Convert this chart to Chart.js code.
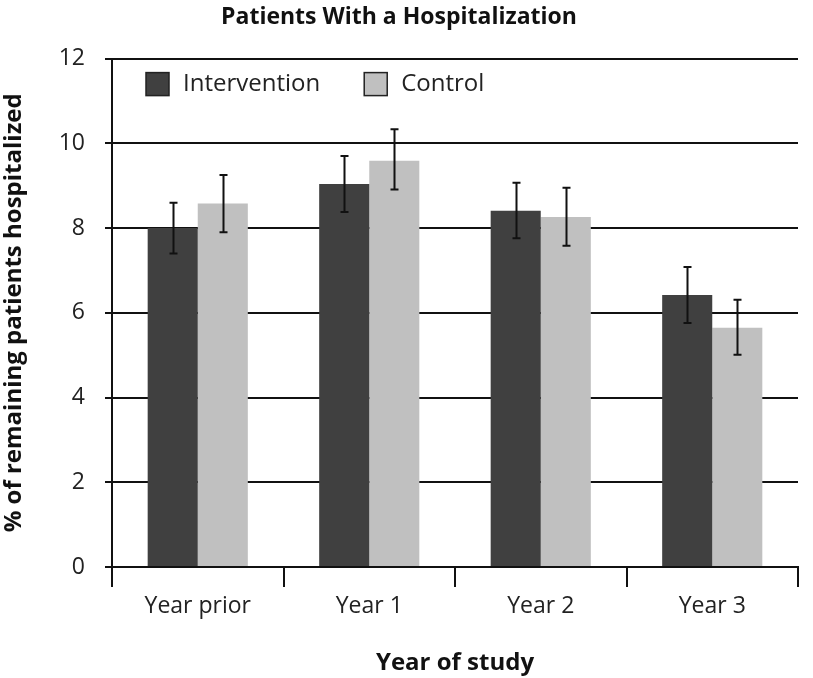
<!DOCTYPE html>
<html>
<head>
<meta charset="utf-8">
<script src="https://cdn.jsdelivr.net/npm/chart.js@4.4.1/dist/chart.umd.min.js"></script>
<style>
  html, body { margin: 0; padding: 0; background: #fff; }
  #wrap { width: 813px; height: 678px; }
</style>
</head>
<body>
<div id="wrap"><canvas id="hospChart" width="813" height="678"></canvas></div>
<script>
const categories = ['Year prior', 'Year 1', 'Year 2', 'Year 3'];
const intervention = [8.0, 9.04, 8.41, 6.42];
const interventionLow = [7.4, 8.38, 7.76, 5.76];
const interventionHigh = [8.6, 9.70, 9.07, 7.08];
const control = [8.58, 9.59, 8.26, 5.65];
const controlLow = [7.9, 8.91, 7.58, 5.01];
const controlHigh = [9.25, 10.33, 8.95, 6.31];
const yTicks = [0, 2, 4, 6, 8, 10, 12];

const FONT = "'Open Sans', 'DejaVu Sans', sans-serif";
const errors = [
  { low: interventionLow, high: interventionHigh },
  { low: controlLow, high: controlHigh }
];

// whiskers on top of the bars
const errorBars = {
  id: 'errorBars',
  afterDatasetsDraw(chart) {
    const { ctx, scales: { y } } = chart;
    ctx.save();
    ctx.strokeStyle = '#111';
    ctx.lineWidth = 2;
    chart.data.datasets.forEach((ds, di) => {
      const meta = chart.getDatasetMeta(di);
      meta.data.forEach((bar, i) => {
        const yl = y.getPixelForValue(errors[di].low[i]);
        const yh = y.getPixelForValue(errors[di].high[i]);
        const x = Math.round(bar.x) + 0.5;
        ctx.beginPath();
        ctx.moveTo(x, yl); ctx.lineTo(x, yh);
        ctx.moveTo(x - 4, yl); ctx.lineTo(x + 4, yl);
        ctx.moveTo(x - 4, yh); ctx.lineTo(x + 4, yh);
        ctx.stroke();
      });
    });
    ctx.restore();
  }
};

// legend inside the plot, top left
const boxLegend = {
  id: 'boxLegend',
  afterDraw(chart) {
    const { ctx, chartArea } = chart;
    ctx.save();
    ctx.font = '24px ' + FONT;
    ctx.textBaseline = 'middle';
    let x = chartArea.left + 34;
    const y = chartArea.top + 14;
    chart.data.datasets.forEach(ds => {
      ctx.fillStyle = ds.backgroundColor;
      ctx.fillRect(x, y, 23, 23);
      ctx.strokeStyle = '#222';
      ctx.lineWidth = 1.5;
      ctx.strokeRect(x, y, 23, 23);
      ctx.fillStyle = '#222';
      ctx.fillText(ds.label, x + 37, y + 12);
      x += 37 + ctx.measureText(ds.label).width + 44;
    });
    ctx.restore();
  }
};

new Chart(document.getElementById('hospChart'), {
  type: 'bar',
  data: {
    labels: categories,
    datasets: [
      { label: 'Intervention', data: intervention, backgroundColor: '#404040' },
      { label: 'Control', data: control, backgroundColor: '#c0c0c0' }
    ]
  },
  options: {
    responsive: false,
    animation: false,
    categoryPercentage: 0.584,
    barPercentage: 1.0,
    layout: { padding: { left: 0, right: 15, top: 0, bottom: 0 } },
    plugins: {
      legend: { display: false },
      tooltip: { enabled: false },
      title: {
        display: true,
        text: 'Patients With a Hospitalization',
        color: '#111',
        font: { family: FONT, size: 23, weight: 'bold' },
        padding: { top: 4, bottom: 27 }
      }
    },
    scales: {
      x: {
        offset: true,
        border: { display: true, color: '#111', width: 2 },
        grid: { display: true, drawOnChartArea: false, color: '#111', lineWidth: 2, tickLength: 20, offset: true },
        ticks: { color: '#222', font: { family: FONT, size: 23 }, padding: 6 },
        title: {
          display: true,
          text: 'Year of study',
          color: '#111',
          font: { family: FONT, size: 24, weight: 'bold' },
          padding: { top: 10, bottom: 0 }
        },
        afterFit(scale) { scale.height = 111; }
      },
      y: {
        min: 0,
        max: 12,
        afterBuildTicks(scale) { scale.ticks = yTicks.map(v => ({ value: v })); },
        border: { display: true, color: '#111', width: 2 },
        grid: { color: '#111', lineWidth: 2, tickLength: 7 },
        ticks: { color: '#222', font: { family: FONT, size: 23 }, padding: 20 },
        title: {
          display: true,
          text: '% of remaining patients hospitalized',
          color: '#111',
          font: { family: FONT, size: 24, weight: 'bold' },
          padding: { top: 0, bottom: 2 }
        },
        afterFit(scale) { scale.width = 112; }
      }
    }
  },
  plugins: [errorBars, boxLegend]
});
</script>
</body>
</html>
